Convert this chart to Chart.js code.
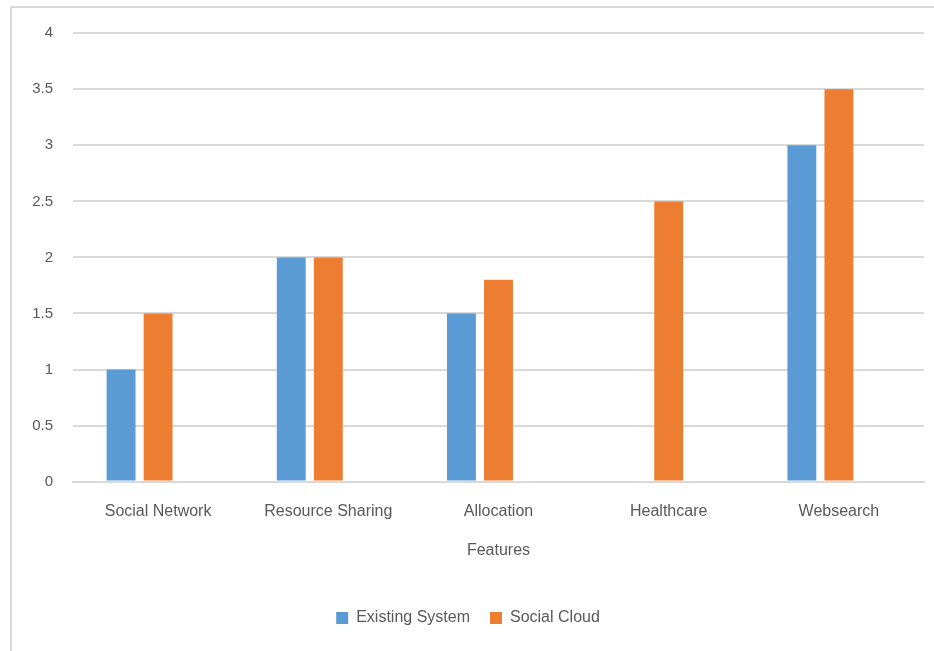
<!DOCTYPE html>
<html>
<head>
<meta charset="utf-8">
<script src="https://cdn.jsdelivr.net/npm/chart.js@4"></script>
<style>
  html, body { margin: 0; padding: 0; background: #fff; }
  #wrap {
    position: absolute;
    left: 10px; top: 6px;
    width: 924px; height: 645px;
    border-left: 2px solid #d9d9d9;
    border-top: 2px solid #d9d9d9;
  }
</style>
</head>
<body>
<div id="wrap"><canvas id="myChart"></canvas></div>
<script>
const categories = ['Social Network', 'Resource Sharing', 'Allocation', 'Healthcare', 'Websearch'];
const existingSystem = [1, 2, 1.5, null, 3];
const socialCloud = [1.5, 2, 1.8, 2.5, 3.5];
const emptySeries = [null, null, null, null, null];  // empty third column in the source sheet

const textColor = '#595959';
const gridColor = '#d9d9d9';
const font = "'Liberation Sans', Arial, sans-serif";

const ctx = document.getElementById('myChart').getContext('2d');

const chart = new Chart(ctx, {
    type: 'bar',
    data: {
        labels: categories,
        datasets: [
            { label: 'Existing System', data: existingSystem, backgroundColor: '#5b9bd5' },
            { label: 'Social Cloud', data: socialCloud, backgroundColor: '#ed7d31' },
            { label: '', data: emptySeries, backgroundColor: 'rgba(0,0,0,0)' }
        ]
    },
    options: {
        responsive: true,
        maintainAspectRatio: false,
        animation: false,
        layout: {
            padding: { left: 0, right: 12, top: 0, bottom: 17 }
        },
        datasets: {
            bar: {
                categoryPercentage: 0.653,
                barPercentage: 0.78
            }
        },
        plugins: {
            tooltip: { enabled: false },
            legend: {
                position: 'bottom',
                labels: {
                    filter: item => item.text !== '',
                    boxWidth: 12,
                    boxHeight: 12,
                    padding: 20,
                    color: textColor,
                    font: { family: font, size: 16 }
                }
            }
        },
        scales: {
            x: {
                grid: { display: false, drawTicks: false },
                border: { display: true, color: gridColor, width: 2 },
                ticks: {
                    color: textColor,
                    padding: 20,
                    maxRotation: 0,
                    font: { family: font, size: 16 }
                },
                title: {
                    display: true,
                    text: 'Features',
                    color: textColor,
                    padding: { top: 0, bottom: 30 },
                    font: { family: font, size: 16 }
                }
            },
            y: {
                min: 0,
                max: 4,
                afterFit: scale => { scale.width = 61; },
                grid: { color: gridColor, lineWidth: 2, drawTicks: false },
                border: { display: false },
                ticks: {
                    stepSize: 0.5,
                    padding: 20,
                    color: textColor,
                    font: { family: font, size: 15, lineHeight: 0.7 },  // keeps the top label from pushing the plot down
                    callback: value => String(value)
                }
            }
        }
    }
});
</script>
</body>
</html>
